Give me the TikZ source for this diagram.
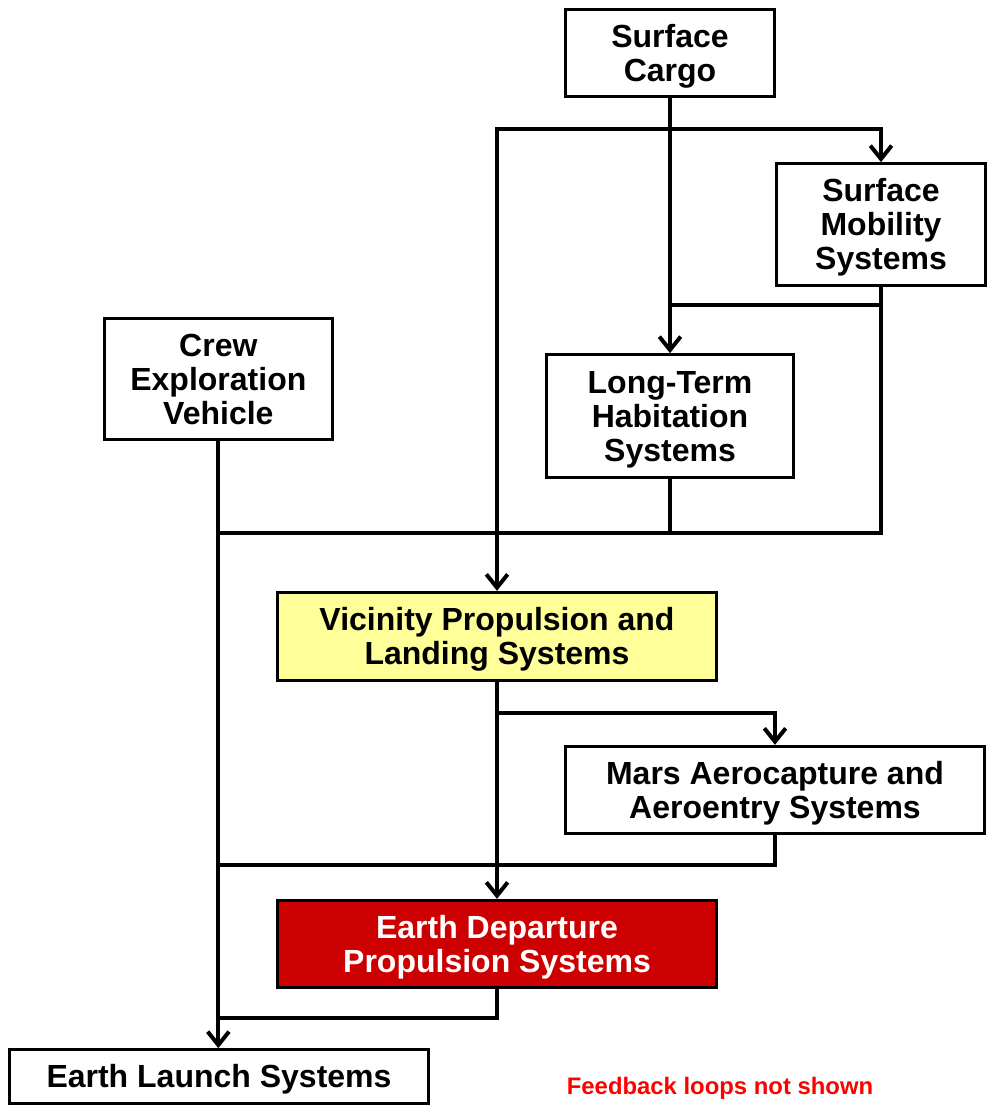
\documentclass[tikz,border=0pt]{standalone}
\usepackage{fontspec}
\setmainfont{Liberation Sans}
\usetikzlibrary{positioning,arrows.meta}
\definecolor{padyellow}{HTML}{FFFF99}
\definecolor{padred}{HTML}{CC0000}
\tikzset{
  sysbox/.style={draw, rectangle, line width=2.25pt, align=center, inner sep=0pt, text depth=0pt,
    font=\bfseries\fontsize{24}{25.5}\selectfont},
  link/.style={line width=3pt},
  flow/.style={link, -{Straight Barb[length=10pt, width=16pt]}},
}
\begin{document}
\begin{tikzpicture}
    \useasboundingbox (0,0) rectangle (740.25pt,-829.5pt);

    \node[sysbox, minimum width=157pt, minimum height=65.5pt] (cargo) at (502.5pt,-39.75pt) {Surface\\Cargo};
    \node[sysbox, minimum width=157pt, minimum height=91pt, below=48pt of cargo, xshift=158.25pt] (mobility) {Surface\\Mobility\\Systems};
    \node[sysbox, minimum width=185.5pt, minimum height=92pt, below=191.25pt of cargo] (habitat) {Long-Term\\Habitation\\Systems};
    \node[sysbox, minimum width=171pt, minimum height=91pt, left=158.25pt of habitat, yshift=27.75pt] (crew) {Crew\\Exploration\\Vehicle};
    \node[sysbox, fill=padyellow, minimum width=329pt, minimum height=66pt, below=84pt of habitat, xshift=-129.75pt] (vicinity) {Vicinity Propulsion and\\Landing Systems};
    \node[sysbox, minimum width=314pt, minimum height=65.5pt, below=47.25pt of vicinity, xshift=208.5pt] (aero) {Mars Aerocapture and\\Aeroentry Systems};
    \node[sysbox, fill=padred, text=white, minimum width=329pt, minimum height=65.5pt, below=162.75pt of vicinity] (departure) {Earth Departure\\Propulsion Systems};
    \node[sysbox, minimum width=314.5pt, minimum height=40pt, below=44.25pt of departure, xshift=-208.5pt] (launch) {Earth Launch Systems};
    \node[text=red, font=\bfseries\fontsize{17.9}{20}\selectfont, right=99pt of launch, yshift=-9pt] (note) {Feedback loops not shown};

    % junction points of the connectors
    \coordinate (split) at (502.5pt,-96.75pt);
    \coordinate (tap) at (502.5pt,-228.75pt);
    \coordinate (merge) at (163.5pt,-399.75pt);
    \coordinate (branch) at (372.75pt,-534.75pt);
    \coordinate (rejoin) at (163.5pt,-648.75pt);
    \coordinate (drop) at (163.5pt,-763.5pt);

    \draw[flow] (cargo) -- (habitat);
    \draw[flow] (split) -| (mobility.north);
    \draw[flow] (split) -| (vicinity.north);
    \draw[link] (tap) -| (mobility.south);
    \draw[link] (mobility.south) |- (crew.south |- merge);
    \draw[link] (habitat) -- (habitat.south |- merge);
    \draw[flow] (crew) -- (crew.south |- launch.north);
    \draw[flow] (vicinity) -- (departure);
    \draw[flow] (branch) -| (aero.north);
    \draw[link] (aero) |- (crew.south |- rejoin);
    \draw[link] (departure) |- (crew.south |- drop);
\end{tikzpicture}
\end{document}
